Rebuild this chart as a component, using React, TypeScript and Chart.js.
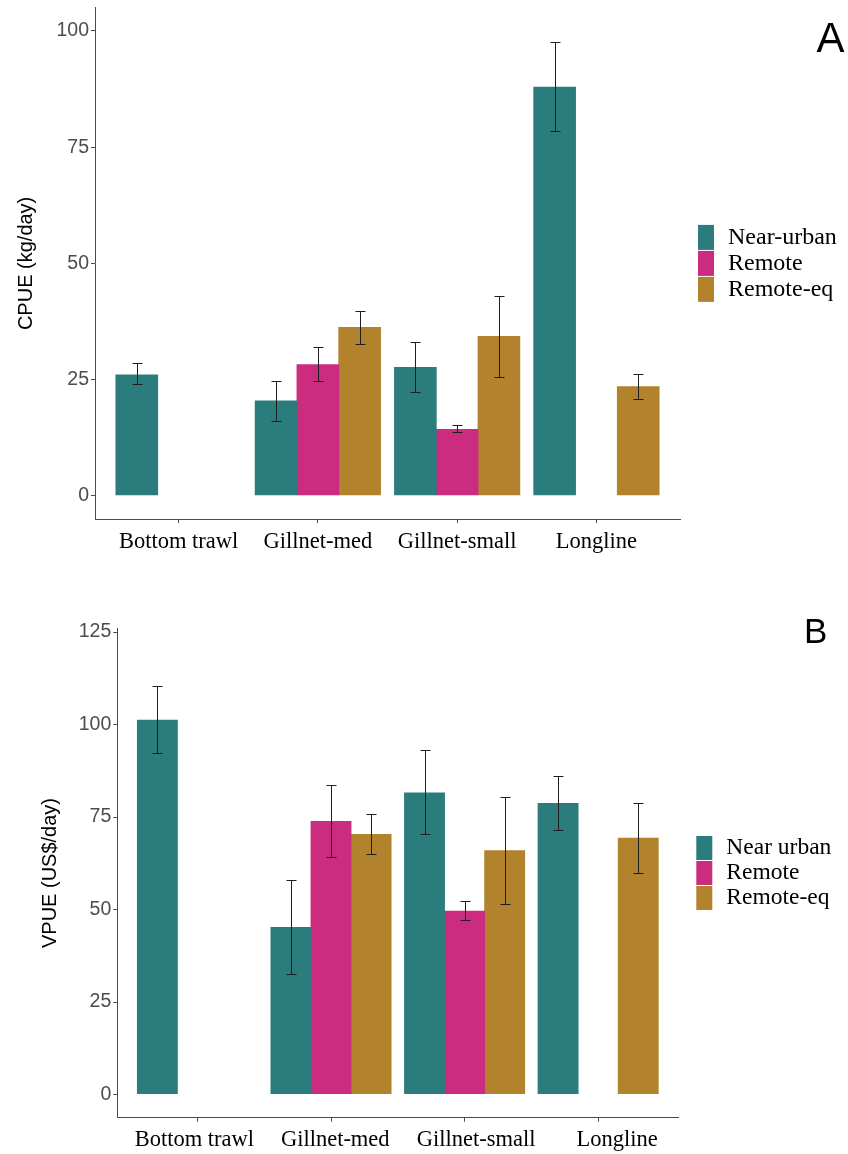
import { useEffect, useRef } from 'react';
import { Chart, registerables } from 'chart.js';

Chart.register(...registerables);

// ---- data ----
const categories = ['Bottom trawl', 'Gillnet-med', 'Gillnet-small', 'Longline'];
const seriesColors = ['#2B7D7D', '#CC2C80', '#B2822D'];

const cpueSeriesLabels = ['Near-urban', 'Remote', 'Remote-eq'];
const cpueNearUrban = [26.1, 20.5, 27.7, 88.0];
const cpueRemote = [null, 28.3, 14.4, null];
const cpueRemoteEq = [null, 36.3, 34.4, 23.6];
const cpueNearUrbanHi = [28.5, 24.8, 33.1, 97.6];
const cpueNearUrbanLo = [24.1, 16.1, 22.4, 78.5];
const cpueRemoteHi = [null, 32.1, 15.2, null];
const cpueRemoteLo = [null, 24.6, 13.8, null];
const cpueRemoteEqHi = [null, 39.8, 43.0, 26.3];
const cpueRemoteEqLo = [null, 32.7, 25.6, 20.9];
const cpueTicks = [0, 25, 50, 75, 100];

const vpueSeriesLabels = ['Near urban', 'Remote', 'Remote-eq'];
const vpueNearUrban = [101.3, 45.3, 81.6, 78.8];
const vpueRemote = [null, 73.9, 49.7, null];
const vpueRemoteEq = [null, 70.4, 66.0, 69.4];
const vpueNearUrbanHi = [110.4, 58.1, 93.0, 86.1];
const vpueNearUrbanLo = [92.4, 32.6, 70.3, 71.5];
const vpueRemoteHi = [null, 83.6, 52.2, null];
const vpueRemoteLo = [null, 64.2, 47.2, null];
const vpueRemoteEqHi = [null, 75.9, 80.4, 78.9];
const vpueRemoteEqLo = [null, 65.1, 51.5, 59.8];
const vpueTicks = [0, 25, 50, 75, 100, 125];

// ---- styling ----
const SANS = "'Liberation Sans', Arial, sans-serif";
const SERIF = "'Liberation Serif', 'Times New Roman', serif";
const AXIS_GREY = '#4a4a4a';

type Panel = {
  top: number;
  height: number;
  yTitle: string;
  yMin: number;
  yMax: number;
  yTicks: number[];
  labels: string[];
  means: (number | null)[][];
  his: (number | null)[][];
  los: (number | null)[][];
  padTop: number;
  padRight: number;
  yAxisWidth: number;
  xAxisHeight: number;
  labelMin: number;
  labelMax: number;
  titlePad: number;
  tag: string;
  tagX: number;
  tagY: number;
  tagSize: number;
  rowHeight: number;
  labelSize: number;
};

const panels: Panel[] = [
  {
    top: 0,
    height: 570,
    yTitle: 'CPUE (kg/day)',
    yMin: -5,
    yMax: 105,
    yTicks: cpueTicks,
    labels: cpueSeriesLabels,
    means: [cpueNearUrban, cpueRemote, cpueRemoteEq],
    his: [cpueNearUrbanHi, cpueRemoteHi, cpueRemoteEqHi],
    los: [cpueNearUrbanLo, cpueRemoteLo, cpueRemoteEqLo],
    padTop: 7.7,
    padRight: 168,
    yAxisWidth: 95,
    xAxisHeight: 50.9,
    labelMin: 0.4,
    labelMax: 4.6,
    titlePad: 14,
    tag: 'A',
    tagX: 816.5,
    tagY: 51.7,
    tagSize: 42,
    rowHeight: 26,
    labelSize: 24,
  },
  {
    top: 600,
    height: 554,
    yTitle: 'VPUE (US$/day)',
    yMin: -6.25,
    yMax: 126,
    yTicks: vpueTicks,
    labels: vpueSeriesLabels,
    means: [vpueNearUrban, vpueRemote, vpueRemoteEq],
    his: [vpueNearUrbanHi, vpueRemoteHi, vpueRemoteEqHi],
    los: [vpueNearUrbanLo, vpueRemoteLo, vpueRemoteEqLo],
    padTop: 28.3,
    padRight: 169.7,
    yAxisWidth: 117.3,
    xAxisHeight: 36.3,
    labelMin: 0.453,
    labelMax: 4.435,
    titlePad: 38,
    tag: 'B',
    tagX: 804,
    tagY: 43.3,
    tagSize: 35,
    rowHeight: 25,
    labelSize: 23.5,
  },
];

// Standard-error whiskers drawn over each bar
const errorBarPlugin = {
  id: 'errorBars',
  afterDatasetsDraw(chart: any) {
    const { ctx } = chart;
    const y = chart.scales.y;
    ctx.save();
    ctx.strokeStyle = '#1e1e1e';
    ctx.lineWidth = 1;
    chart.data.datasets.forEach((ds: any, d: number) => {
      const meta = chart.getDatasetMeta(d);
      ds.errorHi.forEach((hi: number | null, i: number) => {
        const lo = ds.errorLo[i];
        if (hi == null || lo == null || !meta.data[i]) return;
        const x = Math.round(meta.data[i].x) + 0.5;
        const yh = Math.round(y.getPixelForValue(hi)) + 0.5;
        const yl = Math.round(y.getPixelForValue(lo)) + 0.5;
        ctx.beginPath();
        ctx.moveTo(x, yh);
        ctx.lineTo(x, yl);
        ctx.moveTo(x - 5, yh);
        ctx.lineTo(x + 5, yh);
        ctx.moveTo(x - 5, yl);
        ctx.lineTo(x + 5, yl);
        ctx.stroke();
      });
    });
    ctx.restore();
  },
};

// Right-hand key and the panel letter
const panelDecorPlugin = {
  id: 'panelDecor',
  afterDraw(chart: any, _args: any, opts: any) {
    const { ctx, chartArea } = chart;
    const n = chart.data.datasets.length;
    const rh = opts.rowHeight;
    const top = (chartArea.top + chartArea.bottom) / 2 - (n * rh) / 2;
    const x0 = chartArea.right + 18;
    ctx.save();
    chart.data.datasets.forEach((ds: any, i: number) => {
      const y0 = top + i * rh;
      ctx.fillStyle = ds.backgroundColor;
      ctx.fillRect(x0, y0 + 0.5, 16, rh - 1);
      ctx.fillStyle = '#000';
      ctx.font = `${opts.labelSize}px ${SERIF}`;
      ctx.textBaseline = 'alphabetic';
      ctx.textAlign = 'left';
      ctx.fillText(ds.label, x0 + 30, y0 + rh / 2 + 0.26 * opts.labelSize);
    });
    ctx.fillStyle = '#000';
    ctx.font = `${opts.tagSize}px ${SANS}`;
    ctx.textBaseline = 'alphabetic';
    ctx.textAlign = 'left';
    ctx.fillText(opts.tag, opts.tagX, opts.tagY);
    ctx.restore();
  },
};

function buildConfig(p: Panel): any {
  const datasets = p.labels.map((label, s) => ({
    label,
    xAxisID: 'x',
    yAxisID: 'y',
    data: p.means[s].map((v, i) => ({ x: i + 1, y: v })),
    backgroundColor: seriesColors[s],
    borderWidth: 0,
    categoryPercentage: 0.9,
    barPercentage: 1.02,
    errorHi: p.his[s],
    errorLo: p.los[s],
  }));

  const categoryTicks = (s: any) => {
    s.ticks = categories.map((_, i) => ({ value: i + 1 }));
  };

  return {
    type: 'bar',
    data: { datasets },
    plugins: [errorBarPlugin, panelDecorPlugin],
    options: {
      responsive: false,
      animation: false,
      events: [],
      layout: { padding: { top: p.padTop, right: p.padRight, bottom: 0, left: 0 } },
      plugins: {
        legend: { display: false },
        tooltip: { enabled: false },
        panelDecor: {
          tag: p.tag,
          tagX: p.tagX,
          tagY: p.tagY,
          tagSize: p.tagSize,
          rowHeight: p.rowHeight,
          labelSize: p.labelSize,
        },
      },
      scales: {
        // axis line and tick marks for the gear categories
        x: {
          type: 'linear',
          axis: 'x',
          position: 'bottom',
          weight: 0,
          min: 0.4,
          max: 4.6,
          offset: false,
          afterBuildTicks: categoryTicks,
          afterFit: (s: any) => {
            s.height = 4;
            s.paddingLeft = 0;
            s.paddingRight = 0;
          },
          ticks: { display: false, autoSkip: false },
          grid: { offset: false, drawOnChartArea: false, drawTicks: true, tickLength: 4, color: AXIS_GREY, lineWidth: 1 },
          border: { display: true, color: AXIS_GREY, width: 1 },
        },
        // gear category names
        x2: {
          type: 'linear',
          axis: 'x',
          position: 'bottom',
          weight: 1,
          min: p.labelMin,
          max: p.labelMax,
          offset: false,
          afterBuildTicks: categoryTicks,
          afterFit: (s: any) => {
            s.height = p.xAxisHeight - 4;
            s.paddingLeft = 0;
            s.paddingRight = 0;
          },
          ticks: {
            autoSkip: false,
            maxRotation: 0,
            padding: 5,
            color: '#000',
            font: { family: SERIF, size: 22.5 },
            callback: (v: number) => categories[Math.round(v) - 1] ?? '',
          },
          grid: { display: false, drawTicks: false },
          border: { display: false },
        },
        y: {
          type: 'linear',
          min: p.yMin,
          max: p.yMax,
          afterBuildTicks: (s: any) => {
            s.ticks = p.yTicks.map((v) => ({ value: v }));
          },
          afterFit: (s: any) => {
            s.width = p.yAxisWidth;
            s.paddingTop = 0;
            s.paddingBottom = 0;
          },
          ticks: {
            padding: 2,
            color: '#4D4D4D',
            font: { family: SANS, size: 19.5 },
          },
          title: {
            display: true,
            text: p.yTitle,
            color: '#000',
            font: { family: SANS, size: 20 },
            padding: { top: p.titlePad, bottom: 0 },
          },
          grid: { drawOnChartArea: false, drawTicks: true, tickLength: 4, color: AXIS_GREY, lineWidth: 1 },
          border: { display: true, color: AXIS_GREY, width: 1 },
        },
      },
    },
  };
}

function PanelChart({ panel }: { panel: Panel }) {
  const ref = useRef<HTMLCanvasElement>(null);
  useEffect(() => {
    if (!ref.current) return;
    const chart = new Chart(ref.current, buildConfig(panel));
    return () => chart.destroy();
  }, [panel]);
  return (
    <canvas
      ref={ref}
      width={848}
      height={panel.height}
      style={{ position: 'absolute', left: 0, top: panel.top, width: 848, height: panel.height }}
    />
  );
}

export default function App() {
  return (
    <div
      style={{
        position: 'absolute',
        left: 0,
        top: 0,
        width: 848,
        height: 1154,
        background: '#fff',
        overflow: 'hidden',
      }}
    >
      {panels.map((p) => (
        <PanelChart key={p.tag} panel={p} />
      ))}
    </div>
  );
}
